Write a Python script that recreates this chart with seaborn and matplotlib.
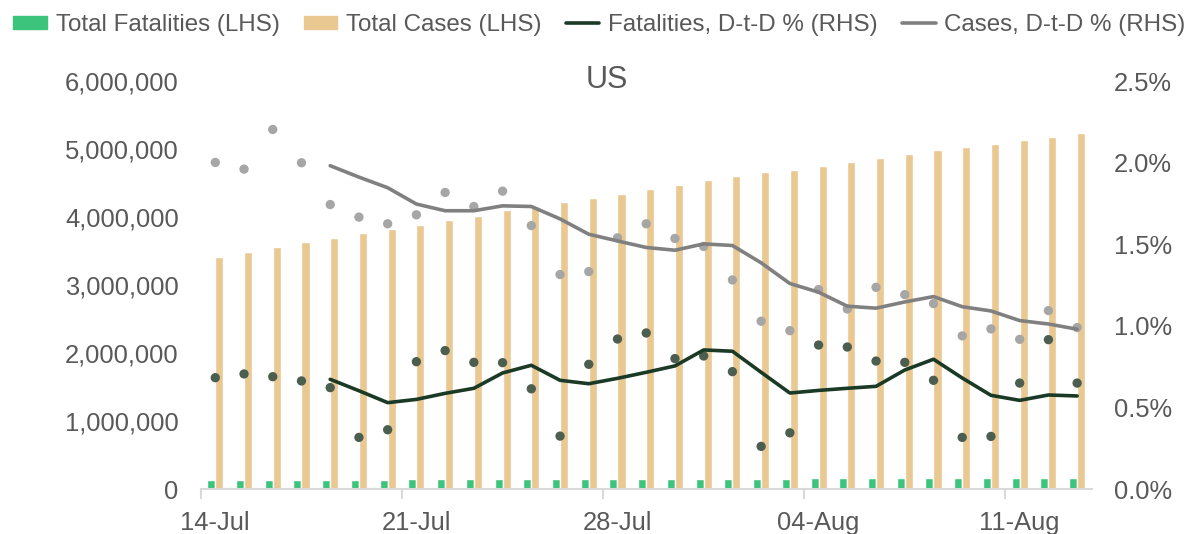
import numpy as np
import pandas as pd
import matplotlib.pyplot as plt
import seaborn as sns
from matplotlib.patches import Patch
from matplotlib.lines import Line2D
from matplotlib.ticker import FuncFormatter

# daily values, 14-Jul .. 13-Aug
day_labels = ["14-Jul", "15-Jul", "16-Jul", "17-Jul", "18-Jul", "19-Jul", "20-Jul",
              "21-Jul", "22-Jul", "23-Jul", "24-Jul", "25-Jul", "26-Jul", "27-Jul",
              "28-Jul", "29-Jul", "30-Jul", "31-Jul", "01-Aug", "02-Aug", "03-Aug",
              "04-Aug", "05-Aug", "06-Aug", "07-Aug", "08-Aug", "09-Aug", "10-Aug",
              "11-Aug", "12-Aug", "13-Aug"]
shown_labels = ["14-Jul", "21-Jul", "28-Jul", "04-Aug", "11-Aug"]

total_cases = [3416000, 3485000, 3563000, 3632000, 3700000, 3760000, 3820000,
               3887000, 3956000, 4020000, 4100000, 4160000, 4220000, 4280000,
               4340000, 4410000, 4480000, 4540000, 4610000, 4660000, 4700000,
               4755000, 4810000, 4870000, 4930000, 4985000, 5030000, 5080000,
               5130000, 5180000, 5235000]
total_fatalities = [137000, 138000, 139000, 140000, 140900, 141300, 141800,
                    142900, 144100, 145200, 146300, 147200, 147700, 148800,
                    150100, 151500, 152700, 153900, 155000, 155400, 155900,
                    157300, 158700, 159900, 161000, 161500, 162000, 163100,
                    164600, 165700, 166800]

# day-to-day change, %
fatal_dtd = [0.683, 0.706, 0.689, 0.663, 0.622, 0.317, 0.364, 0.781, 0.849, 0.777,
             0.775, 0.615, 0.325, 0.765, 0.920, 0.957, 0.800, 0.816, 0.720, 0.262,
             0.345, 0.883, 0.871, 0.785, 0.777, 0.667, 0.317, 0.323, 0.650, 0.916,
             0.650]
case_dtd = [2.002, 1.961, 2.204, 2.000, 1.744, 1.667, 1.626, 1.681, 1.818, 1.732,
            1.826, 1.615, 1.315, 1.333, 1.540, 1.626, 1.536, 1.487, 1.282, 1.029,
            0.971, 1.223, 1.104, 1.237, 1.192, 1.137, 0.939, 0.982, 0.918, 1.094,
            0.990]

# smoothed lines, from 18-Jul on
avg_labels = day_labels[4:]
fatal_avg = [0.673, 0.603, 0.530, 0.550, 0.587, 0.618, 0.712, 0.759, 0.667, 0.646,
             0.679, 0.716, 0.755, 0.853, 0.845, 0.716, 0.589, 0.605, 0.618, 0.630,
             0.730, 0.796, 0.681, 0.575, 0.544, 0.577, 0.571]
case_avg = [1.982, 1.912, 1.847, 1.747, 1.706, 1.706, 1.736, 1.732, 1.656, 1.562,
            1.521, 1.481, 1.464, 1.503, 1.493, 1.387, 1.260, 1.207, 1.121, 1.109,
            1.147, 1.180, 1.118, 1.092, 1.033, 1.012, 0.980]

green = "#3CC47C"
tan = "#EAC892"
dark = "#1B3A26"
grey = "#808080"
dark_dot = "#4B5E50"
grey_dot = "#A6A6A6"
txt = "#595959"
axis_grey = "#D9D9D9"

sns.set_theme(style="white")
plt.rcParams['font.family'] = ['Liberation Sans', 'DejaVu Sans']

pos = {lab: i for i, lab in enumerate(day_labels)}
days = np.array([pos[d] for d in day_labels])
avg_days = np.array([pos[d] for d in avg_labels])

bars = pd.DataFrame({
    "day": np.concatenate([days, days]),
    "value": total_fatalities + total_cases,
    "series": ["Total Fatalities (LHS)"] * len(days) + ["Total Cases (LHS)"] * len(days),
})

fig = plt.figure(figsize=(11.89, 5.34), dpi=100)
ax = fig.add_axes([0.169, 0.084, 0.749, 0.764])

sns.barplot(data=bars, x="day", y="value", hue="series", native_scale=True,
            palette=[green, tan], width=0.56, gap=0, saturation=1,
            legend=False, ax=ax)

ax2 = ax.twinx()
sns.scatterplot(x=days, y=fatal_dtd, color=dark_dot, s=45, edgecolor="none", ax=ax2, zorder=2)
sns.scatterplot(x=days, y=case_dtd, color=grey_dot, s=45, edgecolor="none", ax=ax2, zorder=2)
sns.lineplot(x=avg_days, y=fatal_avg, color=dark, lw=2.6, ax=ax2, zorder=3)
sns.lineplot(x=avg_days, y=case_avg, color=grey, lw=2.6, ax=ax2, zorder=3)

ax.set_xlim(-0.5, len(days) - 0.5)
ax.set_ylim(0, 6000000)
ax.set_yticks(np.arange(0, 6000001, 1000000))
ax.yaxis.set_major_formatter(FuncFormatter(lambda v, _: f"{v:,.0f}"))
ax2.set_ylim(0, 2.5)
ax2.set_yticks(np.arange(0, 2.51, 0.5))
ax2.yaxis.set_major_formatter(FuncFormatter(lambda v, _: f"{v:.1f}%"))

ax.set_xticks([pos[d] for d in shown_labels])
ax.set_xticklabels(shown_labels)
ax.set_xticks([pos[d] - 0.5 for d in shown_labels], minor=True)
ax.tick_params(axis="x", which="major", length=0, pad=16, labelsize=18.4, labelcolor=txt)
ax.tick_params(axis="x", which="minor", bottom=True, length=7, width=1.5, color=axis_grey)
ax.tick_params(axis="y", length=0, pad=16, labelsize=18.4, labelcolor=txt)
ax2.tick_params(axis="y", length=0, pad=16, labelsize=18.4, labelcolor=txt)

for a in (ax, ax2):
    a.set_xlabel("")
    a.set_ylabel("")
    for side in ("left", "right", "top"):
        a.spines[side].set_visible(False)
ax2.spines["bottom"].set_visible(False)
ax.spines["bottom"].set_color(axis_grey)
ax.spines["bottom"].set_linewidth(1.5)

fig.text(0.51, 1 - 80 / 534, "US", ha="center", va="center", fontsize=22, color=txt)

handles = [Patch(color=green), Patch(color=tan),
           Line2D([], [], color=dark, lw=2.6), Line2D([], [], color=grey, lw=2.6)]
names = ["Total Fatalities (LHS)", "Total Cases (LHS)",
         "Fatalities, D-t-D % (RHS)", "Cases, D-t-D % (RHS)"]
fig.legend(handles, names, loc="center", bbox_to_anchor=(0.504, 1 - 25 / 534), ncol=4,
           frameon=False, fontsize=17.4, labelcolor=txt, handlelength=1.4,
           handleheight=0.5, handletextpad=0.35, columnspacing=1.0)

fig.savefig("out.png", dpi=100)
